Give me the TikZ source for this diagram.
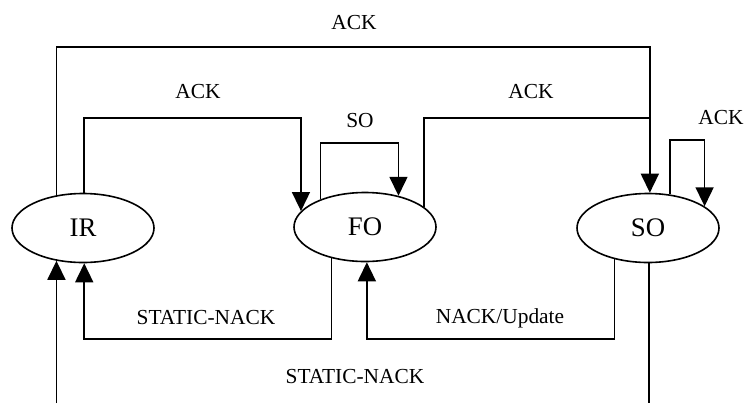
\documentclass[tikz,border=0pt]{standalone}
\usepackage{fontspec}
\setmainfont{Liberation Serif}
\usepackage{tikz}
\usetikzlibrary{shapes.geometric}
\usetikzlibrary{arrows.meta}

\begin{document}
\begin{tikzpicture}[x=0.5pt, y=-0.5pt, line width=0.8pt,
		state/.style={ellipse, draw, minimum width=71pt, minimum height=34.5pt, inner sep=0pt, font=\fontsize{13.4}{15}\selectfont},
		lbl/.style={font=\fontsize{10.7}{12}\selectfont, inner sep=0pt},
		arr/.style={-{Triangle[length=9.5pt, width=9pt]}}]
	\useasboundingbox (0,0) rectangle (745,403);
	
	\node[state] (IR) at (83,228) {IR};
	\node[state] (FO) at (365,227) {FO};
	\node[state] (SO) at (648,228) {SO};
	
	% levels of the horizontal runs
	\coordinate (hi) at (0,47);
	\coordinate (mid) at (0,118);
	\coordinate (low) at (0,339);
	\coordinate (edge) at (0,403);
	
	\draw[arr] (IR.129) |- (hi -| SO.87) -- (SO.87);
	\node[lbl] (ackTop) at (354,23) {ACK};
	
	\draw[arr] (IR.88) |- (mid -| FO.166) -- (FO.166);
	\node[lbl] (ackLeft) at (198,92) {ACK};
	
	\draw[arr] (FO.148) |- (FO.43 |- 0,143) -- (FO.43);
	\node[lbl] (soLoop) at (360,121) {SO};
	
	\draw (FO.19) |- (mid -| SO.87);
	\node[lbl] (ackRight) at (531,92) {ACK};
	
	\draw[arr] (SO.57) |- (SO.21 |- 0,140) -- (SO.21);
	\node[lbl] (ackLoop) at (721,118) {ACK};
	
	\draw[arr] (FO.-137) |- (low -| IR.-88) -- (IR.-88);
	\node[lbl] (nackIn) at (206,318) {STATIC-NACK};
	
	\draw[arr] (SO.-137) |- (low -| FO.-87) -- (FO.-87);
	\node[lbl] (update) at (500,318) {NACK/Update};
	
	\draw[arr] (IR.-129 |- edge) -- (IR.-129);
	\draw (SO.-88) -- (SO.-88 |- edge);
	\node[lbl] (nackOut) at (355,377) {STATIC-NACK};
	
\end{tikzpicture}
\end{document}
